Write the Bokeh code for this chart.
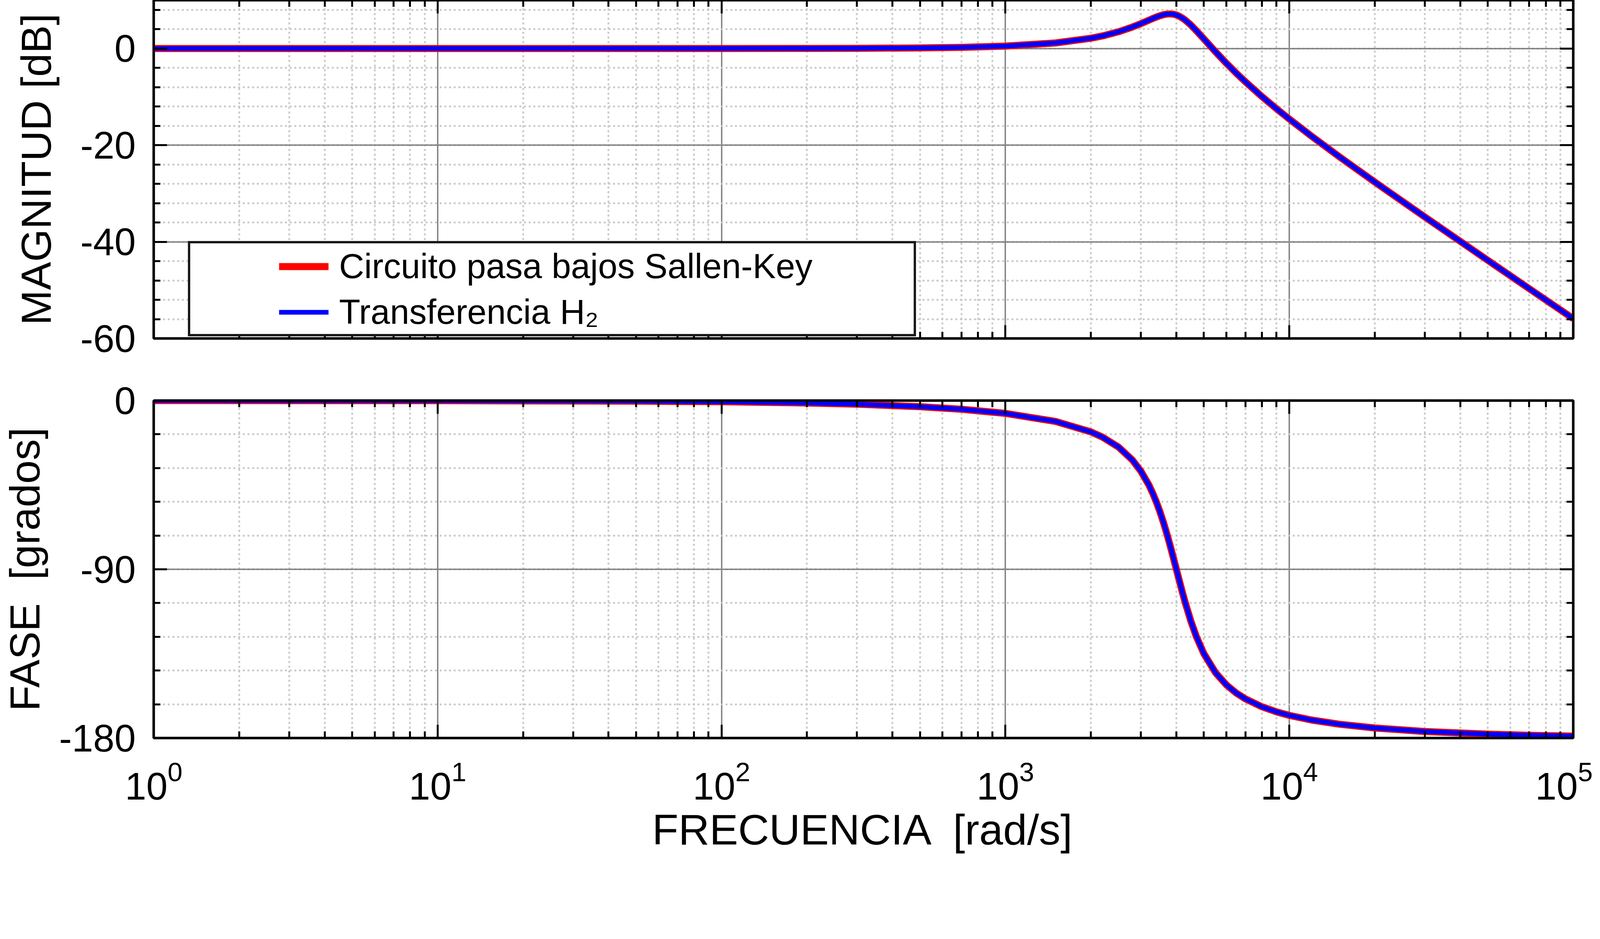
from bokeh.plotting import figure
from bokeh.models import LogAxis, LinearAxis, FixedTicker, Legend, LegendItem, Range1d
from bokeh.layouts import column
from bokeh.embed import file_html
from bokeh.resources import INLINE

# ---------------- data ----------------
freq = [1, 10, 50, 100, 200, 300, 500, 700, 1000, 1500,
        2000, 2200, 2500, 2800, 3000, 3200, 3300, 3400, 3500, 3600,
        3700, 3800, 3900, 4000, 4100, 4200, 4300, 4500, 4700, 5000,
        5500, 6000, 6500, 7000, 8000, 9000, 10000, 12000, 15000, 20000,
        30000, 50000, 70000, 100000]

mag_circuito = [0.0, 0.0, 0.001, 0.005, 0.02, 0.044, 0.12, 0.24, 0.50, 1.15,
                2.13, 2.61, 3.46, 4.45, 5.15, 5.86, 6.20, 6.51, 6.78, 6.99,
                7.12, 7.16, 7.10, 6.94, 6.67, 6.31, 5.88, 4.86, 3.72, 1.99,
                -0.70, -3.05, -5.09, -6.88, -9.92, -12.44, -14.60, -18.18, -22.39, -27.64,
                -34.86, -43.83, -49.70, -55.91]
mag_h2 = list(mag_circuito)

fase_circuito = [-0.01, -0.06, -0.32, -0.65, -1.29, -1.94, -3.27, -4.64, -6.84, -11.11,
                 -16.70, -19.54, -24.78, -31.70, -37.65, -45.0, -49.30, -54.04, -59.24, -64.87,
                 -70.87, -77.15, -83.58, -90.0, -96.26, -102.24, -107.83, -117.68, -125.75, -135.0,
                 -145.21, -151.63, -155.98, -159.10, -163.30, -166.01, -167.91, -170.42, -172.64, -174.64,
                 -176.50, -177.93, -178.52, -178.97]
fase_h2 = list(fase_circuito)

x_decades = [1, 10, 100, 1000, 10000, 100000]
x_minor = [m * d for d in [1, 10, 100, 1000, 10000] for m in range(2, 10)]
mag_ticks = [-60, -40, -20, 0]
mag_minor = list(range(-56, 10, 4))
fase_ticks = [-180, -90, 0]
fase_minor = list(range(-162, 0, 18))

labels = ["Circuito pasa bajos Sallen-Key", "Transferencia H\u2082"]
ylabel_mag = "MAGNITUD [dB]"
ylabel_fase = "FASE \u00a0[grados]"
xlabel = "FRECUENCIA \u00a0[rad/s]"

# ---------------- style ----------------
FONT = "Liberation Sans"
FL, FW, FR = 385, 3634, 50


def style_axis(ax, show_labels=True):
    ax.axis_line_color = "black"
    ax.axis_line_width = 6
    ax.major_tick_line_color = "black"
    ax.major_tick_line_width = 5
    ax.minor_tick_line_color = "black"
    ax.minor_tick_line_width = 5
    ax.major_tick_in = 34
    ax.major_tick_out = 0
    ax.minor_tick_in = 17
    ax.minor_tick_out = 0
    ax.major_label_text_font = FONT
    ax.major_label_text_color = "black"
    ax.axis_label_text_font = FONT
    ax.axis_label_text_font_style = "normal"
    ax.axis_label_text_color = "black"
    ax.axis_label_text_font_size = "108px"
    if show_labels:
        ax.major_label_text_font_size = "98px"
    else:
        ax.major_label_text_font_size = "2px"
        ax.major_label_text_alpha = 0
        ax.major_label_standoff = 0


def make_fig(y0, y1, yticks, yminor, frame_h, bt, bb, ylabel, xlabels, ylab_standoff):
    p = figure(x_axis_type="log", x_range=Range1d(1, 1e5), y_range=Range1d(y0, y1),
               frame_width=FW, frame_height=frame_h,
               min_border_left=FL, min_border_right=FR,
               min_border_top=bt, min_border_bottom=bb,
               toolbar_location=None, output_backend="svg",
               background_fill_color="white", border_fill_color="white")
    p.outline_line_color = "black"
    p.outline_line_width = 6
    xt = FixedTicker(ticks=x_decades, minor_ticks=x_minor)
    yt = FixedTicker(ticks=yticks, minor_ticks=yminor)
    bottom = p.below[0]
    left = p.left[0]
    bottom.ticker = xt
    left.ticker = yt
    style_axis(bottom, xlabels)
    if xlabels:
        bottom.major_label_standoff = 57
        bottom.axis_label_standoff = 12
        bottom.axis_label_text_font_size = "110px"
    style_axis(left, True)
    left.major_label_standoff = 46
    left.axis_label_standoff = ylab_standoff
    left.axis_label = ylabel
    left.major_label_overrides = {t: str(t) for t in yticks}
    top = LogAxis(ticker=xt)
    style_axis(top, False)
    p.add_layout(top, "above")
    right = LinearAxis(ticker=yt)
    style_axis(right, False)
    p.add_layout(right, "right")
    for g in (p.xgrid[0], p.ygrid[0]):
        g.grid_line_color = "#808080"
        g.grid_line_width = 3.5
        g.minor_grid_line_color = "#c8c8c8"
        g.minor_grid_line_width = 4.5
        g.minor_grid_line_dash = "5 7"
    return p


# ---------------- magnitude ----------------
p1 = make_fig(-60, 10, mag_ticks, mag_minor, 866, 0, 70, ylabel_mag, False, 50)
r_inv = p1.line(freq, mag_h2, line_alpha=0)
r_red = p1.line(freq, mag_circuito, line_color="#ff0000", line_width=18, line_join="round")
r_blue = p1.line(freq, mag_h2, line_color="#0000ff", line_width=12, line_join="round")

box = Legend(items=[LegendItem(label=" ", renderers=[r_inv])], location=(88, 5),
             padding=0, margin=0, glyph_width=2, glyph_height=2, label_standoff=0,
             label_width=1850, label_height=232, spacing=0,
             border_line_color="#1a1a1a", border_line_width=6, border_line_alpha=1.0,
             background_fill_color="white", background_fill_alpha=1.0,
             label_text_font=FONT, label_text_font_size="10px")
p1.add_layout(box, "center")

leg = Legend(items=[LegendItem(label=labels[0], renderers=[r_red]),
                    LegendItem(label=labels[1], renderers=[r_blue])],
             location=(321, 16), padding=0, margin=0,
             glyph_width=127, glyph_height=100, label_height=100, label_standoff=27,
             spacing=14, border_line_alpha=0, background_fill_alpha=0,
             label_text_font=FONT, label_text_font_size="89px", label_text_color="black")
p1.add_layout(leg, "center")

# ---------------- phase ----------------
p2 = make_fig(-180, 0, fase_ticks, fase_minor, 864, 89, 270, ylabel_fase, True, 24)
p2.below[0].axis_label = xlabel
p2.line(freq, fase_circuito, line_color="#ff0000", line_width=18, line_join="round")
p2.line(freq, fase_h2, line_color="#0000ff", line_width=12, line_join="round")

layout = column(p1, p2, spacing=0)
open("out.html", "w").write(file_html(layout, INLINE))
